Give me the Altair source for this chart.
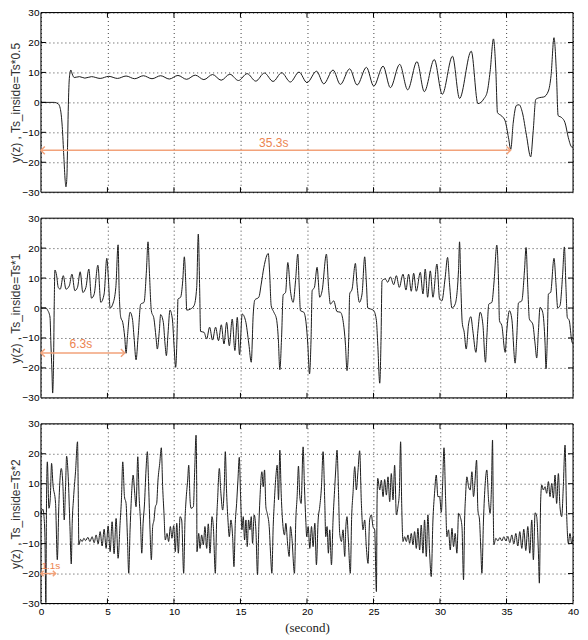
import altair as alt
import pandas as pd

# ---------------- data ----------------
p1 = [(0.0, 0), (1.0, 0), (1.3, -0.5), (1.45, -2), (1.6, -8), (1.72, -18), (1.82, -26), (1.88, -28.2),
      (1.95, -25), (2.0, -15), (2.05, -3), (2.1, 5), (2.17, 9.5), (2.25, 10.8), (2.35, 9.5), (2.5, 8.3),
      (2.9, 8.6), (3.3, 8.1), (3.8, 8.6), (4.45, 8.0), (5.1, 8.7), (5.75, 8.0), (6.4, 8.8), (7.05, 7.9),
      (7.7, 8.9), (8.35, 7.9), (9.0, 8.9), (9.65, 7.8), (10.3, 9.0), (10.95, 7.7), (11.6, 9.1), (12.25, 7.6),
      (12.9, 9.3), (13.55, 7.4), (14.2, 9.4), (14.85, 7.3), (15.5, 9.6), (16.15, 7.1), (16.8, 9.8), (17.45, 7.0),
      (18.1, 9.9), (18.75, 6.8), (19.4, 10.1), (20.0, 6.6), (20.72, 10.4), (21.26, 6.2), (21.96, 10.8),
      (22.51, 6.0), (23.21, 11.2), (23.77, 5.8), (24.47, 11.7), (25.02, 5.4), (25.72, 12.1), (26.27, 4.9),
      (26.97, 12.7), (27.57, 4.2), (28.27, 13.6), (28.82, 3.6), (29.57, 14.3), (30.17, 2.7), (30.94, 15.4),
      (31.47, 1.3), (32.35, 17.1), (32.85, -0.4), (33.3, 1.2), (33.55, 3.5), (33.77, 10.4), (34.02, 21.2),
      (34.2, 10.4), (34.32, -3.4), (34.65, -4.6), (34.9, -6.2), (35.15, -11.8), (35.32, -15.7), (35.5, -7),
      (35.75, -1), (35.95, -0.8), (36.2, -3.5), (36.5, -11), (36.82, -18.2), (37.0, -10), (37.2, 1.0),
      (37.5, 1.6), (37.8, 1.8), (38.15, 3.8), (38.35, 9), (38.57, 21.6), (38.75, 10), (38.88, -4.4),
      (39.15, -5.1), (39.4, -6.8), (39.65, -11.8), (39.9, -14.9), (40.0, -15)]

p2 = [(0.0, 0), (0.38, 0), (0.5, -0.7), (0.68, -3), (0.75, -12), (0.83, -21.4), (0.88, -28.4), (0.95, -17.5),
      (1.0, 1.3), (1.05, 12.7), (1.18, 10.8), (1.3, 6.9), (1.45, 6.3), (1.68, 10.8), (1.88, 6.3), (2.13, 7.4),
      (2.33, 11.3), (2.55, 5.8), (2.75, 6.9), (2.95, 12.1), (3.15, 5.2), (3.38, 6.9), (3.6, 13), (3.8, 3.3),
      (4.0, 4.6), (4.28, 14.3), (4.5, 1.9), (4.75, 4.7), (4.95, 16.6), (5.08, 9), (5.2, 0), (5.4, 1.3),
      (5.63, 6.9), (5.8, 21.1), (5.88, 5.8), (6.0, -3.1), (6.15, -4.8), (6.3, -9.8), (6.4, -15.1), (6.5, -9.8),
      (6.7, -1.4), (6.88, -3.7), (7.0, -9.8), (7.15, -17.3), (7.3, -9.8), (7.5, 1.3), (7.75, 1.9), (7.93, 12.4),
      (8.05, 22.1), (8.15, 12.4), (8.3, -0.9), (8.5, -3.7), (8.65, -9.8), (8.75, -13.7), (8.9, -7.6), (9.0, -2.2),
      (9.2, -4.8), (9.33, -12), (9.43, -15.9), (9.55, -8.7), (9.7, -0.7), (9.88, -3.7), (10.0, -12),
      (10.13, -19.8), (10.26, -4.2), (10.3, 3), (10.5, 3.6), (10.66, 9.1), (10.78, 17.1), (10.88, 9.1),
      (10.96, -0.7), (11.26, -0.3), (11.51, 0.8), (11.71, 6.9), (11.83, 24.7), (11.93, 6.9), (12.0, -7.8),
      (12.26, -8.1), (12.46, -10.3), (12.68, -6.4), (12.9, -10.7), (13.13, -6.4), (13.35, -10.9), (13.56, -5.6),
      (13.76, -12), (13.96, -4.8), (14.16, -12.6), (14.38, -3.7), (14.58, -14.2), (14.76, -3.1), (14.93, -15.6),
      (15.13, -2), (15.38, -4.2), (15.63, -12), (15.81, -18.1), (15.96, -2), (16.08, 2.7), (16.38, 3.6),
      (16.56, 8), (16.76, 13.6), (17.09, 18.2), (17.19, 12), (17.31, 0.8), (17.51, -1.4), (17.71, -3.7),
      (17.84, -9.8), (17.96, -20.6), (18.09, -9.8), (18.21, 4.4), (18.39, 5.2), (18.56, 15.2), (18.76, 5.6),
      (18.96, 1.9), (19.14, 9.1), (19.31, 18), (19.41, 8), (19.51, -0.9), (19.76, -1.4), (19.94, -5.3),
      (20.06, -12), (20.19, -22), (20.31, -9.8), (20.39, 5.8), (20.56, 6.9), (20.76, 13.6), (20.96, 3.6),
      (21.14, 5.8), (21.46, 18), (21.64, 5.8), (21.76, 1.3), (22.01, 2.4), (22.26, -1.2), (22.51, -1.4),
      (22.71, -4.2), (22.89, -12), (23.01, -20.9), (23.14, -9.8), (23.21, 4.7), (23.39, 6.3), (23.64, 14.9),
      (23.76, 8), (23.94, 1.9), (24.14, 4.7), (24.34, 17.1), (24.47, 8), (24.57, 0), (24.77, -0.3),
      (25.02, -0.9), (25.22, -4.2), (25.32, -12), (25.47, -25.1), (25.57, -9.8), (25.64, 9.1), (25.89, 9.7),
      (26.07, 8.6), (26.27, 10.4), (26.52, 7.8), (26.72, 10.8), (26.94, 6.9), (27.22, 11.3), (27.44, 6.0),
      (27.64, 11.3), (27.84, 5.6), (28.02, 11.6), (28.22, 5.6), (28.52, 11.9), (28.72, 4.7), (28.89, 13),
      (29.07, 3.6), (29.27, 12.4), (29.47, 3.6), (29.77, 14.7), (29.97, 3), (30.14, 2.4), (30.39, 10.2),
      (30.57, 16.9), (30.72, 8), (30.9, 0), (31.14, 1.3), (31.39, 12.4), (31.47, 22.1), (31.57, 6.9),
      (31.67, -4.8), (31.82, -8.1), (31.97, -13.7), (32.15, -5.3), (32.32, -2.9), (32.47, -7.6), (32.7, -14.8),
      (32.85, -7.6), (33.02, -1.4), (33.22, -5.3), (33.42, -18.1), (33.52, -9.8), (33.67, 1.3), (33.9, 1.9),
      (34.07, 9.1), (34.27, 21), (34.4, 9.1), (34.47, -4.2), (34.65, -5.9), (34.9, -14.8), (35.02, -7.6),
      (35.22, -0.9), (35.4, -3.7), (35.65, -18.4), (35.77, -9.8), (35.9, 1.7), (36.15, 2.4), (36.35, 12.4),
      (36.47, 20.2), (36.6, 6.9), (36.72, -3.7), (36.97, -5.3), (37.15, -12), (37.27, -16.7), (37.4, -7.6),
      (37.52, 0.2), (37.72, -1.4), (37.9, -12), (37.97, -20.3), (38.07, -9.8), (38.15, 4.7), (38.32, 5.2),
      (38.57, 16.6), (38.72, 8), (38.85, 0), (39.02, 0.8), (39.22, 11.2), (39.35, 20.4), (39.47, 6.9),
      (39.57, -3.1), (39.72, -4.2), (39.9, -10.9), (40.0, -12)]

p3 = [(0.0, 0), (0.15, 1.5), (0.23, -1), (0.3, -8), (0.37, -29.7), (0.42, 5), (0.48, 17.3), (0.6, 1.8),
      (0.7, 5), (0.8, 16.8), (0.9, 10), (1.1, 3.4), (1.23, -15.4), (1.35, 3.4), (1.53, 15.1), (1.65, 9.6),
      (1.75, -2.1), (1.85, 9), (1.93, 19.2), (2.05, 12.3), (2.18, -4.3), (2.28, -16.8), (2.35, -3.2),
      (2.45, 5.1), (2.6, 14), (2.75, 24), (2.8, 9), (2.85, -10.4), (2.98, -8.6), (3.1, -9.3), (3.23, -8.2),
      (3.35, -9.0), (3.53, -7.9), (3.68, -9.3), (3.85, -7.7), (4.0, -9.7), (4.15, -7.1), (4.3, -10.1),
      (4.45, -6.0), (4.6, -10.8), (4.75, -5.2), (4.9, -11.6), (5.05, -4.1), (5.2, -12.7), (5.35, -2.7),
      (5.5, -13.4), (5.65, -1.6), (5.8, -14.9), (5.95, -3.2), (6.05, 4.6), (6.15, 17.3), (6.28, 5.7),
      (6.4, 3.4), (6.5, -7.7), (6.6, -19.9), (6.7, -5.4), (6.78, 3.4), (6.93, 12.9), (7.05, 6.8), (7.15, 2.3),
      (7.28, 19.0), (7.38, 5.7), (7.48, -2.1), (7.58, -13.2), (7.68, -3.2), (7.78, 2.9), (7.9, 14.6),
      (8.0, 20.7), (8.1, 9), (8.2, -5.4), (8.3, -15.4), (8.4, -4.3), (8.5, -2.1), (8.6, 2.3), (8.7, 3.4),
      (8.8, 11.2), (8.93, 16.8), (9.05, 22), (9.15, 9), (9.25, 0.1), (9.35, -8.8), (9.48, -6.6), (9.6, -9.3),
      (9.73, -4.3), (9.85, -8.2), (9.98, -4.0), (10.1, -12.7), (10.21, -3.2), (10.33, -13.2), (10.46, -1),
      (10.58, -2.1), (10.73, -19.9), (10.83, -2.1), (10.91, 4.6), (11.03, 11.2), (11.11, 16.2), (11.21, 4.6),
      (11.28, 1.8), (11.46, 2.3), (11.56, 14.6), (11.66, 26.2), (11.71, 9), (11.73, -12.7), (11.86, -6.6),
      (11.96, -11.6), (12.08, -7.1), (12.21, -10.4), (12.33, -4.3), (12.46, -11.6), (12.58, -3.4),
      (12.71, -13.2), (12.86, -1), (12.96, -4.3), (13.11, -19.9), (13.21, -2.1), (13.28, 4.6), (13.41, 15.1),
      (13.53, 6.8), (13.66, 1.2), (13.78, 9), (13.86, 20.7), (13.96, 6.8), (14.06, -2.1), (14.16, -7.7),
      (14.28, -2.1), (14.41, -7.7), (14.51, -17.7), (14.61, -3.2), (14.71, 3.4), (14.81, 11.2), (14.91, 18.8),
      (15.01, 5.7), (15.11, -5.4), (15.21, -1), (15.31, -8.8), (15.41, -2.1), (15.51, -11), (15.61, -2.1),
      (15.71, -5.4), (15.81, -1), (15.91, -9.9), (16.03, -0.4), (16.16, -5.4), (16.28, -20.4), (16.38, -4.3),
      (16.46, 4.6), (16.61, 14), (16.71, 9), (16.81, 14.6), (16.91, 2.3), (17.01, 0.1), (17.16, -4.3),
      (17.26, -13.2), (17.36, -19.9), (17.46, -4.3), (17.54, 3.4), (17.66, 12.3), (17.76, 16.2), (17.86, 4.6),
      (17.96, 21.2), (18.06, 6.8), (18.16, -2.1), (18.31, -7.1), (18.41, -3.2), (18.56, -11), (18.66, -14.3),
      (18.76, -4.3), (18.86, -7.7), (19.06, -19.9), (19.16, -2.1), (19.26, 5.7), (19.36, 15.9), (19.46, 5.7),
      (19.56, 3.4), (19.71, 22.3), (19.81, 9), (19.91, -2.1), (19.98, -7.7), (20.09, -4.3), (20.21, -11.6),
      (20.34, -4.3), (20.46, -11), (20.59, -3.2), (20.71, -17.1), (20.84, -2.1), (20.96, 2.3), (21.09, 9),
      (21.21, 20.7), (21.34, 3.4), (21.41, -7.7), (21.51, -4.3), (21.61, -13.2), (21.71, -5.4), (21.84, -17.1),
      (21.96, -2.1), (22.09, 9), (22.16, 14.6), (22.26, 21.2), (22.36, 9), (22.46, -6.6), (22.59, -9.3),
      (22.71, -5.4), (22.84, -14.3), (22.91, -5.4), (23.01, -1), (23.11, -8.8), (23.26, -19.9), (23.36, -1),
      (23.46, 6.8), (23.59, 15.7), (23.71, 7.9), (23.84, 14.6), (23.96, 21), (24.09, 3.4), (24.21, -5.4),
      (24.34, -2.1), (24.46, -11), (24.59, -16.6), (24.71, -2.1), (24.84, -0.4), (24.96, -4.3), (25.09, -5.4),
      (25.22, -26), (25.27, 4.6), (25.32, 11.8), (25.47, 7.9), (25.59, 11.2), (25.72, 5.7), (25.84, 11.4),
      (25.97, 6.2), (26.09, 12.3), (26.22, 4), (26.34, 13.4), (26.47, 4.6), (26.59, 16.2), (26.72, -0.4),
      (26.84, 2.3), (26.94, 6.8), (27.04, 24), (27.12, 3.4), (27.22, -9.3), (27.34, -7.7), (27.47, -9.3),
      (27.59, -7.1), (27.72, -9.9), (27.84, -6.6), (27.97, -10.4), (28.09, -6.0), (28.22, -11.6), (28.34, -4.9),
      (28.47, -12.1), (28.59, -3.8), (28.72, -13.2), (28.84, -2.1), (28.97, -14.3), (29.09, -0.4),
      (29.22, -13.2), (29.34, -21), (29.47, -2.1), (29.59, 6.8), (29.72, 12.9), (29.84, 5.7), (29.97, 5.7),
      (30.1, 0.5), (30.2, 10), (30.3, 22), (30.42, 5), (30.52, -7.7), (30.64, -5.4), (30.77, -12.1),
      (30.9, -4.9), (31.02, -11), (31.14, -6.6), (31.27, -13.2), (31.4, 0.1), (31.52, -1), (31.65, -4.3),
      (31.77, -22.1), (31.85, -2.1), (31.92, 5.7), (32.02, 12.3), (32.15, 9), (32.27, 7.9), (32.4, 14),
      (32.52, 5.7), (32.62, 10.1), (32.75, 17.9), (32.85, 1.2), (32.97, -2.1), (33.07, -12.1), (33.15, -19.9),
      (33.27, -2.1), (33.4, 10.1), (33.52, 14.6), (33.65, 4.6), (33.77, 0.1), (33.87, 9), (33.95, 24.6),
      (34.0, 3.4), (34.05, -10.4), (34.2, -8.2), (34.35, -9.1), (34.5, -8.0), (34.65, -9.1), (34.8, -7.7),
      (34.95, -9.1), (35.1, -7.6), (35.25, -9.7), (35.4, -7.1), (35.55, -10.1), (35.7, -6.6), (35.85, -10.8),
      (36.0, -6.0), (36.15, -11.6), (36.3, -5.2), (36.45, -12.3), (36.6, -4.3), (36.75, -13.2), (36.9, -2.1),
      (37.02, -15.4), (37.15, 0.3), (37.27, -1.0), (37.4, -13.2), (37.47, -23.2), (37.57, 4.6), (37.65, 9.6),
      (37.77, 7.9), (37.9, 9), (38.02, 6.8), (38.15, 10.7), (38.27, 5.7), (38.4, 10.1), (38.52, 5.2),
      (38.65, 12.9), (38.77, 3.4), (38.9, 13.4), (39.02, 2.3), (39.15, -1), (39.27, 9), (39.4, 22.9),
      (39.52, 0.1), (39.65, -9.9), (39.77, -6.6), (39.9, -9.9), (40.0, -7.8)]

series = [p1, p2, p3]
y_titles = ["y(z) , Ts_inside=Ts*0.5", "y(z) , Ts_inside=Ts*1", "y(z) , Ts_inside=Ts*2"]
x_ticks = [0, 5, 10, 15, 20, 25, 30, 35, 40]
y_ticks = [-30, -20, -10, 0, 10, 20, 30]
x_inner_ticks = [5, 10, 15, 20, 25, 30, 35]
y_inner_ticks = [-20, -10, 0, 10, 20]

arrow_start = [0, 0, 0]
arrow_end = [35.3, 6.3, 1.1]
arrow_y = [-16, -15, -20]
arrow_labels = ["35.3s", "6.3s", "1.1s"]
label_x = [17.5, 3.0, 0.75]
label_y = [-13.4, -12.0, -17.6]
label_size = [12, 12, 10]
head_size = [60, 60, 30]

# ---------------- style ----------------
W, H = 533, 180
ORANGE_LINE = "#F2A27A"
ORANGE_TEXT = "#EC8450"
xs = alt.Scale(domain=[0, 40], nice=False, zero=False)
ys = alt.Scale(domain=[-30, 30], nice=False, zero=False)
GRID = dict(grid=True, gridColor="#000", gridDash=[1, 3], gridOpacity=0.75, gridWidth=1)


def panel(i):
    last = i == 2
    xaxis = alt.Axis(values=x_ticks, ticks=False, domain=False, labels=last,
                     labelFlush=False, title="(second)" if last else None,
                     titleFont="Liberation Serif", titleFontSize=13, titleFontWeight="normal",
                     titleColor="#222", titlePadding=5, labelPadding=3, **GRID)
    yaxis = alt.Axis(values=y_ticks, ticks=False, domain=False, labelFlush=False,
                     title=y_titles[i], titleFontWeight="normal", titleFontSize=12,
                     titleColor="#333", titlePadding=0, labelPadding=2, **GRID)
    df = pd.DataFrame(series[i], columns=["t", "y"])
    line = alt.Chart(df).mark_line(color="#1c1c1c", strokeWidth=1, interpolate="monotone").encode(
        x=alt.X("t:Q", scale=xs, axis=xaxis),
        y=alt.Y("y:Q", scale=ys, axis=yaxis),
    )
    xt = pd.DataFrame({"t": x_inner_ticks})
    yt = pd.DataFrame({"y": y_inner_ticks})
    tick_bottom = alt.Chart(xt).mark_rule(color="#000", strokeWidth=1).encode(
        x=alt.X("t:Q", scale=xs, axis=xaxis), y=alt.value(H), y2=alt.value(H - 5))
    tick_top = alt.Chart(xt).mark_rule(color="#000", strokeWidth=1).encode(
        x=alt.X("t:Q", scale=xs, axis=xaxis), y=alt.value(0), y2=alt.value(5))
    tick_left = alt.Chart(yt).mark_rule(color="#000", strokeWidth=1).encode(
        y=alt.Y("y:Q", scale=ys, axis=yaxis), x=alt.value(0), x2=alt.value(5))
    tick_right = alt.Chart(yt).mark_rule(color="#000", strokeWidth=1).encode(
        y=alt.Y("y:Q", scale=ys, axis=yaxis), x=alt.value(W), x2=alt.value(W - 5))
    frame = alt.Chart(xt.head(1)).mark_rect(fill=None, stroke="#000", strokeWidth=1).encode(
        x=alt.value(0), x2=alt.value(W), y=alt.value(0), y2=alt.value(H))

    ad = pd.DataFrame({"t": [arrow_start[i]], "t2": [arrow_end[i]], "y": [arrow_y[i]]})
    arrow = alt.Chart(ad).mark_rule(color=ORANGE_LINE, strokeWidth=1.5).encode(
        x=alt.X("t:Q", scale=xs, axis=xaxis), x2="t2:Q", y=alt.Y("y:Q", scale=ys, axis=yaxis))
    hl = alt.Chart(ad).mark_point(shape="M 1 -1 L 0 0 L 1 1", filled=False, color=ORANGE_LINE,
                                  strokeWidth=1.5, size=head_size[i], opacity=1).encode(
        x=alt.X("t:Q", scale=xs, axis=xaxis), y=alt.Y("y:Q", scale=ys, axis=yaxis))
    hr = alt.Chart(ad).mark_point(shape="M -1 -1 L 0 0 L -1 1", filled=False, color=ORANGE_LINE,
                                  strokeWidth=1.5, size=head_size[i], opacity=1).encode(
        x=alt.X("t2:Q", scale=xs, axis=xaxis), y=alt.Y("y:Q", scale=ys, axis=yaxis))
    ld = pd.DataFrame({"t": [label_x[i]], "y": [label_y[i]], "txt": [arrow_labels[i]]})
    lab = alt.Chart(ld).mark_text(color=ORANGE_TEXT, fontSize=label_size[i], font="Liberation Sans",
                                  baseline="middle", align="center").encode(
        x=alt.X("t:Q", scale=xs, axis=xaxis), y=alt.Y("y:Q", scale=ys, axis=yaxis), text="txt:N")

    return alt.layer(line, tick_bottom, tick_top, tick_left, tick_right, frame, arrow, hl, hr, lab).properties(
        width=W, height=H)


chart = alt.vconcat(panel(0), panel(1), panel(2), spacing=14).properties(
    padding={"left": 0, "top": -2, "right": 0, "bottom": 0}
).configure_view(stroke=None).configure_axis(
    labelFont="Liberation Sans", labelFontSize=11, labelColor="#222",
    titleFont="Liberation Sans"
).configure(background="white")

chart.save("out.html", embed_options={"renderer": "svg", "actions": False})
